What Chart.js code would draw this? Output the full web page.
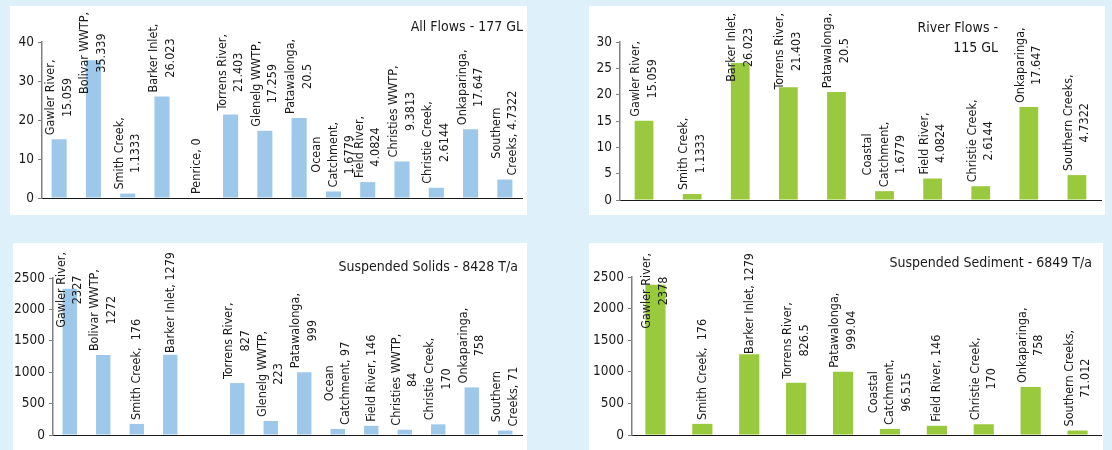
<!DOCTYPE html>
<html>
<head>
<meta charset="utf-8">
<script src="https://cdn.jsdelivr.net/npm/chart.js@4.4.1/dist/chart.umd.min.js"></script>
<style>
    body {
        margin: 0;
        width: 1112px;
        height: 450px;
        overflow: hidden;
        position: relative;
        background: #def1fb;
        font-family: "DejaVu Sans Condensed", "DejaVu Sans", sans-serif;
    }
    .panel { position: absolute; background: #ffffff; }
    .panel canvas { display: block; }
    .title {
        position: absolute;
        font-size: 14px;
        line-height: 20px;
        color: #1a1a1a;
        text-align: right;
        white-space: nowrap;
    }
</style>
</head>
<body>

<div class="panel" style="left:10px; top:6px; width:517px; height:209px;"><canvas id="allFlows" width="517" height="209"></canvas></div>
<div class="panel" style="left:589px; top:6px; width:516px; height:209px;"><canvas id="riverFlows" width="516" height="209"></canvas></div>
<div class="panel" style="left:13px; top:243px; width:514px; height:209px;"><canvas id="solids" width="514" height="209"></canvas></div>
<div class="panel" style="left:589px; top:243px; width:514px; height:209px;"><canvas id="sediment" width="514" height="209"></canvas></div>

<div class="title" style="right:589px; top:16px;">All Flows - 177 GL</div>
<div class="title" style="right:114px; top:17px;">River Flows -<br>115 GL</div>
<div class="title" style="right:594px; top:256px;">Suspended Solids - 8428 T/a</div>
<div class="title" style="right:20px; top:252px;">Suspended Sediment - 6849 T/a</div>

<script>
// Data label prefixes ("\n" = where the label wraps), value is appended after
var allSites = ['Gawler River,\n', 'Bolivar WWTP,\n', 'Smith Creek,\n', 'Barker Inlet,\n', 'Penrice, ',
    'Torrens River,\n', 'Glenelg WWTP,\n', 'Patawalonga,\n', 'Ocean\nCatchment,\n', 'Field River,\n',
    'Christies WWTP,\n', 'Christie Creek,\n', 'Onkaparinga,\n', 'Southern\nCreeks, '];
var allFlows = [15.059, 35.339, 1.1333, 26.023, 0, 21.403, 17.259, 20.5, 1.6779, 4.0824, 9.3813, 2.6144, 17.647, 4.7322];

var riverSites = ['Gawler River,\n', 'Smith Creek,\n', 'Barker Inlet,\n', 'Torrens River,\n', 'Patawalonga,\n',
    'Coastal\nCatchment,\n', 'Field River,\n', 'Christie Creek,\n', 'Onkaparinga,\n', 'Southern Creeks,\n'];
var riverFlows = [15.059, 1.1333, 26.023, 21.403, 20.5, 1.6779, 4.0824, 2.6144, 17.647, 4.7322];

var solidsSites = ['Gawler River,\n', 'Bolivar WWTP,\n', 'Smith Creek,  ', 'Barker Inlet, ', 'Penrice, ',
    'Torrens River,\n', 'Glenelg WWTP,\n', 'Patawalonga,\n', 'Ocean\nCatchment, ', 'Field River, ',
    'Christies WWTP,\n', 'Christie Creek,\n', 'Onkaparinga,\n', 'Southern\nCreeks, '];
var solidsLoads = [2327, 1272, 176, 1279, null, 827, 223, 999, 97, 146, 84, 170, 758, 71];

var sedimentSites = ['Gawler River,\n', 'Smith Creek,  ', 'Barker Inlet, ', 'Torrens River,\n', 'Patawalonga,\n',
    'Coastal\nCatchment,\n', 'Field River, ', 'Christie Creek,\n', 'Onkaparinga,\n', 'Southern Creeks,\n'];
var sedimentLoads = [2378, 176, 1279, 826.5, 999.04, 96.515, 146, 170, 758, 71.012];

var FONT = '"DejaVu Sans Condensed", "DejaVu Sans", sans-serif';

// Draws the rotated "Site, value" labels above each bar (kept inside the panel top)
var barLabels = {
    id: 'barLabels',
    afterDatasetsDraw: function(chart, args, opts) {
        var ctx = chart.ctx;
        var vals = chart.data.datasets[0].data;
        ctx.save();
        ctx.font = '12.5px ' + FONT;
        ctx.fillStyle = '#1a1a1a';
        ctx.textAlign = 'center';
        ctx.textBaseline = 'middle';
        chart.getDatasetMeta(0).data.forEach(function(bar, i) {
            if (vals[i] === null) return;
            var lines = (chart.data.labels[i] + vals[i]).split('\n');
            var len = Math.max.apply(null, lines.map(function(l) { return ctx.measureText(l).width; }));
            var bottom = bar.y - 4;
            if (bottom - len < opts.minTop) bottom = opts.minTop + len;
            ctx.save();
            ctx.translate(bar.x, bottom - len / 2);
            ctx.rotate(-Math.PI / 2);
            lines.forEach(function(l, k) {
                ctx.fillText(l, 0, (k - (lines.length - 1) / 2) * 16.5);
            });
            ctx.restore();
        });
        ctx.restore();
    }
};

function makeChart(id, sites, values, color, yMax, step, axisX, pad, barPct, minTop) {
    return new Chart(document.getElementById(id), {
        type: 'bar',
        data: {
            labels: sites,
            datasets: [{ data: values, backgroundColor: color, categoryPercentage: 1, barPercentage: barPct }]
        },
        plugins: [barLabels],
        options: {
            responsive: false,
            animation: false,
            devicePixelRatio: 1,
            layout: { padding: pad },
            plugins: {
                legend: { display: false },
                tooltip: { enabled: false },
                barLabels: { minTop: minTop }
            },
            scales: {
                x: {
                    ticks: { display: false },
                    grid: { display: true, drawOnChartArea: false, drawTicks: false },
                    border: { color: '#1a1a1a', width: 1 },
                    afterFit: function(scale) { scale.height = 0; }
                },
                y: {
                    min: 0,
                    max: yMax,
                    ticks: {
                        stepSize: step,
                        color: '#1a1a1a',
                        font: { family: FONT, size: 13.5 },
                        padding: 4,
                        callback: function(v) { return String(v); }  // no thousands separator
                    },
                    grid: { drawOnChartArea: false, tickLength: 4, color: '#808080', lineWidth: 1 },
                    border: { color: '#808080', width: 1.5 },
                    afterFit: function(scale) { scale.width = axisX; }
                }
            }
        }
    });
}

makeChart('allFlows', allSites, allFlows, '#9dc8ea', 40, 10, 32, { left: 0, right: 5, top: 36, bottom: 17 }, 0.44, 6);
makeChart('riverFlows', riverSites, riverFlows, '#99c93c', 30, 5, 31, { left: 0, right: 4, top: 36, bottom: 15 }, 0.39, 7);
makeChart('solids', solidsSites, solidsLoads, '#9dc8ea', 2500, 500, 40, { left: 0, right: 5, top: 35, bottom: 17 }, 0.43, 9);
makeChart('sediment', sedimentSites, sedimentLoads, '#99c93c', 2500, 500, 43, { left: 0, right: 2, top: 34, bottom: 17 }, 0.43, 10);
</script>
</body>
</html>
